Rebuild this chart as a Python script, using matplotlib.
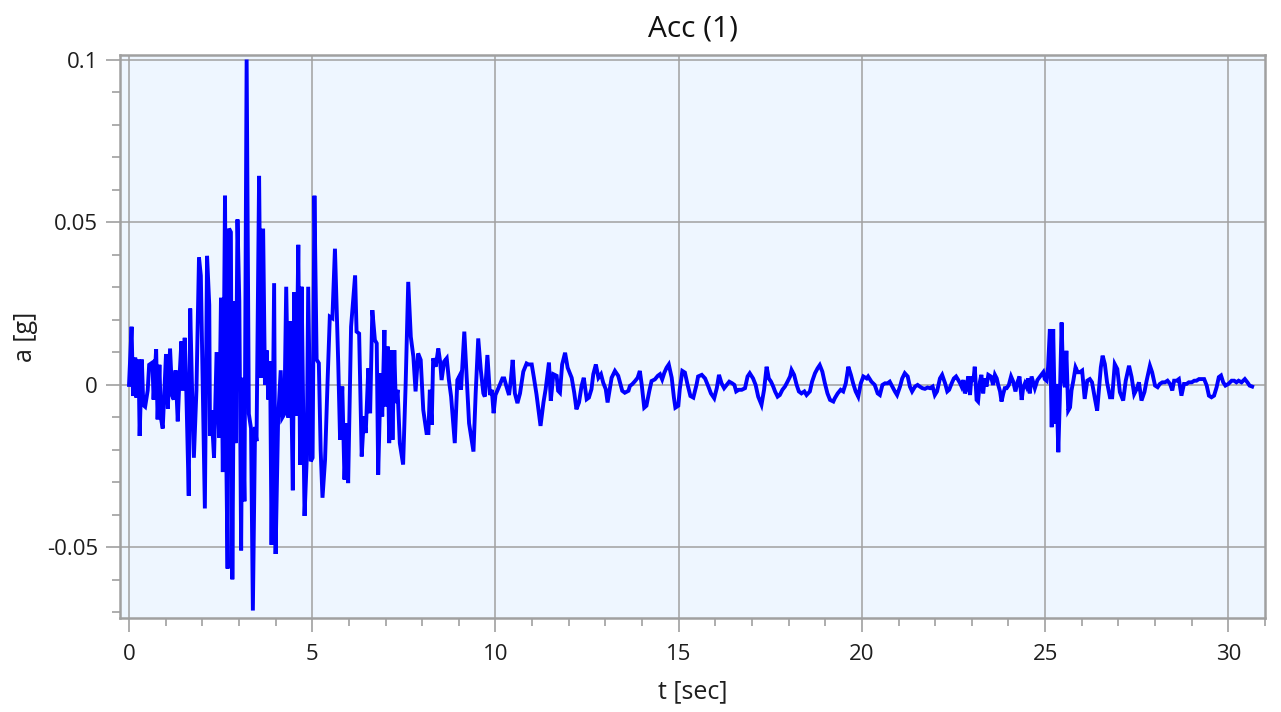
import matplotlib
matplotlib.use("Agg")
import matplotlib.pyplot as plt
from matplotlib.ticker import MultipleLocator, FuncFormatter

# registro de aceleracao: tempo [s] e aceleracao [g]
t_forte = [
    0.00, 0.07, 0.11, 0.17, 0.20, 0.26, 0.29, 0.35, 0.39, 0.44, 0.51, 0.55, 0.64, 0.67, 0.74, 0.78,
    0.83, 0.87, 0.92, 1.01, 1.06, 1.12, 1.18, 1.22, 1.27, 1.33, 1.38, 1.43, 1.47, 1.52, 1.56, 1.63,
    1.67, 1.72, 1.77, 1.84, 1.91, 1.96, 2.07, 2.13, 2.19, 2.21, 2.25, 2.32, 2.39, 2.46, 2.51, 2.56,
    2.62, 2.66, 2.69, 2.73, 2.78, 2.82, 2.87, 2.91, 2.96, 3.01, 3.06, 3.09, 3.15, 3.21, 3.27, 3.33,
    3.38, 3.44, 3.48, 3.55, 3.60, 3.66, 3.71, 3.76, 3.80, 3.85, 3.89, 3.96, 4.00, 4.07, 4.14, 4.18,
    4.24, 4.29, 4.35, 4.40, 4.47, 4.51, 4.56, 4.62, 4.67, 4.71, 4.79, 4.85, 4.89, 4.96, 5.01, 5.06,
    5.12, 5.18, 5.23, 5.28, 5.35, 5.42, 5.48, 5.55, 5.62, 5.71, 5.76, 5.82, 5.88, 5.94, 5.98, 6.06,
    6.17, 6.21, 6.28, 6.35, 6.41, 6.46, 6.53, 6.58, 6.64, 6.71, 6.76, 6.80, 6.87, 6.91, 6.97, 7.00,
    7.06, 7.10, 7.15, 7.19, 7.24, 7.28, 7.33, 7.39, 7.48, 7.55, 7.62, 7.69, 7.76, 7.82, 7.89, 7.96,
    8.03, 8.12, 8.17, 8.21, 8.26, 8.30, 8.37, 8.44, 8.49, 8.53, 8.60, 8.67, 8.73, 8.79, 8.89, 8.96,
    9.01, 9.06, 9.15, 9.21, 9.28, 9.40, 9.46, 9.53, 9.60, 9.67, 9.71, 9.78, 9.85, 9.90, 9.95, 10.00,
]
a_forte = [
    0.0, 0.0179, -0.0034, 0.0084, -0.0039, 0.0078, -0.0157, 0.0078, -0.0062, -0.0067, -0.0017, 0.0062, 0.0069, -0.0045, 0.0110, -0.0106,
    0.0062, -0.0101, -0.0134, 0.0095, -0.0073, 0.0112, -0.0034, -0.0045, 0.0045, -0.0112, 0.0028, 0.0134, -0.0017, 0.0145, 0.0, -0.0341,
    0.0235, -0.0011, -0.0224, -0.0017, 0.0392, 0.0336, -0.0380, 0.0397, 0.0246, -0.0157, -0.0078, -0.0224, 0.0101, -0.0162, 0.0268, -0.0268,
    0.0582, -0.0268, -0.0565, 0.0481, 0.0470, -0.0598, 0.0257, -0.0179, 0.0509, 0.0257, -0.0509, 0.0022, -0.0358, 0.1001, -0.0089, -0.0134,
    -0.0694, -0.0129, -0.0173, 0.0643, 0.0022, 0.0481, 0.0, 0.0106, -0.0045, 0.0073, -0.0492, 0.0313, -0.0520, -0.0101, 0.0045, -0.0101,
    -0.0089, 0.0302, -0.0101, 0.0196, -0.0324, 0.0285, -0.0095, 0.0431, -0.0246, 0.0302, -0.0403, -0.0229, 0.0302, -0.0235, -0.0224, 0.0582,
    0.0078, 0.0067, -0.0201, -0.0347, -0.0230, 0.0015, 0.0210, 0.0205, 0.0419, 0.0066, -0.0169, -0.0005, -0.0291, -0.0118, -0.0302, 0.0179,
    0.0337, 0.0164, 0.0158, -0.0220, -0.0097, -0.0148, 0.0051, -0.0087, 0.0230, 0.0138, 0.0128, -0.0276, 0.0036, -0.0097, 0.0169, -0.0066,
    0.0118, -0.0179, 0.0107, -0.0169, 0.0107, -0.0056, -0.0015, -0.0179, -0.0245, 0.0005, 0.0317, 0.0148, 0.0087, -0.0020, 0.0097, 0.0077,
    -0.0077, -0.0148, -0.0148, -0.0015, -0.0123, 0.0082, 0.0056, 0.0112, 0.0072, 0.0015, 0.0072, 0.0082, 0.0015, -0.0036, -0.0179, 0.0015,
    0.0026, -0.0015, 0.0164, 0.0031, -0.0118, -0.0205, -0.0026, 0.0143, 0.0046, -0.0026, -0.0036, 0.0092, -0.0031, -0.0015, -0.0087, -0.0031,
]

t_cauda = [
    10.08, 10.19, 10.24, 10.30, 10.37, 10.42, 10.47, 10.53, 10.60, 10.67, 10.76, 10.85, 10.90, 10.99, 11.05, 11.12,
    11.23, 11.31, 11.37, 11.46, 11.51, 11.58, 11.67, 11.71, 11.76, 11.82, 11.90, 11.97, 12.08, 12.15, 12.21, 12.28,
    12.35, 12.41, 12.49, 12.55, 12.62, 12.67, 12.74, 12.81, 12.88, 12.94, 13.01, 13.06, 13.12, 13.17, 13.26, 13.35,
    13.40, 13.46, 13.53, 13.63, 13.67, 13.73, 13.81, 13.88, 13.94, 13.99, 14.06, 14.12, 14.20, 14.26, 14.35, 14.43,
    14.49, 14.55, 14.61, 14.67, 14.73, 14.81, 14.87, 14.91, 14.99, 15.03, 15.10, 15.17, 15.24, 15.32, 15.40, 15.49,
    15.53, 15.63, 15.72, 15.81, 15.88, 15.97, 16.04, 16.10, 16.17, 16.24, 16.31, 16.38, 16.46, 16.52, 16.57, 16.64,
    16.72, 16.81, 16.88, 16.94, 17.03, 17.10, 17.17, 17.26, 17.33, 17.40, 17.46, 17.52, 17.58, 17.63, 17.70, 17.76,
    17.83, 17.90, 17.97, 18.04, 18.08, 18.15, 18.22, 18.28, 18.35, 18.43, 18.49, 18.58, 18.64, 18.72, 18.79, 18.85,
    18.92, 18.99, 19.06, 19.13, 19.22, 19.26, 19.34, 19.42, 19.49, 19.56, 19.63, 19.70, 19.76, 19.83, 19.90, 19.97,
    20.04, 20.13, 20.17, 20.26, 20.35, 20.43, 20.49, 20.56, 20.63, 20.70, 20.76, 20.83, 20.90, 20.96, 21.04, 21.10,
    21.17, 21.25, 21.31, 21.37, 21.45, 21.52, 21.58, 21.65, 21.72, 21.79, 21.86, 21.93, 21.99, 22.05, 22.13, 22.19,
    22.27, 22.33, 22.38, 22.45, 22.51, 22.57, 22.63, 22.68, 22.72, 22.77, 22.81, 22.86, 22.90, 22.95, 22.99, 23.04,
    23.08, 23.13, 23.17, 23.22, 23.26, 23.31, 23.35, 23.40, 23.45, 23.52, 23.58, 23.63, 23.68, 23.72, 23.77, 23.81,
    23.86, 23.90, 23.95, 24.01, 24.07, 24.13, 24.19, 24.25, 24.30, 24.36, 24.40, 24.45, 24.49, 24.54, 24.58, 24.63,
    24.67, 24.72, 24.79,
]
a_cauda = [
    -0.0010, 0.0020, 0.0020, -0.0005, -0.0031, 0.0015, 0.0077, -0.0026, -0.0056, -0.0026, 0.0041, 0.0066, 0.0063, 0.0063, 0.0022, -0.0029,
    -0.0126, -0.0054, -0.0013, 0.0069, -0.0049, 0.0033, 0.0028, -0.0018, -0.0024, 0.0063, 0.0099, 0.0053, 0.0022, -0.0024, -0.0075, -0.0054,
    -0.0003, 0.0022, -0.0044, -0.0039, -0.0013, 0.0033, 0.0063, 0.0022, 0.0033, 0.0007, -0.0013, -0.0054, -0.0013, 0.0022, 0.0043, 0.0028,
    0.0007, -0.0018, -0.0024, -0.0018, -0.0003, 0.0002, 0.0012, 0.0022, 0.0043, 0.0002, -0.0070, -0.0064, -0.0018, 0.0012, 0.0017, 0.0028,
    0.0033, 0.0017, 0.0038, 0.0053, 0.0063, 0.0022, -0.0039, -0.0070, -0.0064, -0.0013, 0.0043, 0.0038, 0.0002, -0.0034, -0.0039, 0.0002,
    0.0026, 0.0031, 0.0020, -0.0005, -0.0026, -0.0041, -0.0010, 0.0031, 0.0005, -0.0010, 0.0, 0.0010, 0.0005, 0.0, -0.0020, -0.0015,
    -0.0015, -0.0010, 0.0026, 0.0036, 0.0020, 0.0, -0.0036, -0.0061, -0.0015, 0.0056, 0.0020, 0.0010, -0.0005, -0.0020, -0.0036, -0.0031,
    -0.0015, -0.0005, 0.0010, 0.0026, 0.0046, 0.0031, 0.0, -0.0020, -0.0026, -0.0020, -0.0031, -0.0020, 0.0010, 0.0036, 0.0051, 0.0061,
    0.0041, 0.0005, -0.0026, -0.0046, -0.0051, -0.0041, -0.0026, -0.0015, -0.0020, 0.0005, 0.0056, 0.0031, 0.0005, -0.0020, -0.0036, 0.0005,
    0.0026, 0.0020, 0.0026, 0.0010, 0.0, -0.0026, -0.0031, 0.0, 0.0005, 0.0005, 0.0010, -0.0005, -0.0020, -0.0031, -0.0005, 0.0020,
    0.0036, 0.0026, -0.0005, -0.0020, -0.0005, 0.0, -0.0005, -0.0010, -0.0012, -0.0008, -0.0010, -0.0005, -0.0031, -0.0020, 0.0020, 0.0031,
    0.0005, -0.0020, -0.0015, 0.0005, 0.0020, 0.0026, 0.0015, 0.0005, -0.0005, 0.0015, -0.0026, -0.0010, 0.0026, -0.0031, 0.0026, 0.0010,
    0.0056, -0.0046, -0.0051, 0.0010, 0.0031, -0.0026, 0.0020, -0.0005, 0.0031, 0.0026, 0.0, 0.0031, 0.0020, 0.0, -0.0020, -0.0051,
    -0.0026, -0.0010, -0.0010, 0.0, 0.0026, 0.0010, -0.0020, 0.0010, 0.0026, -0.0046, -0.0010, 0.0005, -0.0005, 0.0020, -0.0026, 0.0026,
    0.0010, -0.0010, 0.0015,
]

t_replica = [
    24.95, 24.99, 25.04, 25.08, 25.13, 25.18, 25.22, 25.27, 25.31, 25.36, 25.40, 25.45, 25.49, 25.54, 25.58, 25.63,
    25.68, 25.72, 25.77, 25.83, 25.89, 25.95, 26.01, 26.08, 26.15, 26.22, 26.28, 26.36, 26.42, 26.48, 26.52, 26.57,
    26.63, 26.69, 26.77, 26.83, 26.90, 26.97, 27.04, 27.13, 27.20, 27.29, 27.36, 27.43, 27.50, 27.56, 27.63, 27.71,
    27.77, 27.86, 27.92, 28.00, 28.07, 28.13, 28.20, 28.27, 28.34, 28.41, 28.47, 28.52, 28.59, 28.65, 28.72, 28.79,
    28.86, 28.92, 29.00, 29.07, 29.13, 29.20, 29.27, 29.34, 29.41, 29.47, 29.54, 29.61, 29.68, 29.74, 29.80, 29.86,
    29.92, 30.00, 30.09, 30.16, 30.22, 30.28, 30.36, 30.45, 30.52, 30.58, 30.65,
]
a_replica = [
    0.0039, 0.0018, 0.0013, 0.0054, 0.0172, -0.0130, 0.0172, -0.0120, 0.0003, -0.0207, -0.0048, 0.0192, 0.0024, -0.0007, 0.0105, -0.0079,
    -0.0069, -0.0017, 0.0013, 0.0054, 0.0039, 0.0039, 0.0044, -0.0043, 0.0013, 0.0018, 0.0008, -0.0043, -0.0079, 0.0003, 0.0054, 0.0090,
    0.0064, 0.0008, -0.0038, -0.0038, 0.0064, 0.0049, -0.0022, -0.0048, 0.0013, 0.0059, 0.0024, -0.0028, -0.0012, 0.0008, -0.0048, -0.0022,
    0.0013, 0.0059, 0.0039, -0.0002, -0.0007, 0.0003, 0.0008, 0.0008, 0.0013, 0.0003, -0.0017, 0.0013, 0.0013, 0.0018, -0.0033, 0.0003,
    0.0003, 0.0008, 0.0008, 0.0013, 0.0013, 0.0018, 0.0018, 0.0018, -0.0002, -0.0033, -0.0038, -0.0033, -0.0007, 0.0024, 0.0029, 0.0008,
    -0.0002, 0.0003, 0.0013, 0.0013, 0.0008, 0.0013, 0.0008, 0.0018, 0.0008, -0.0002, -0.0005,
]

tempo = t_forte + t_cauda + t_replica
aceleracao = a_forte + a_cauda + a_replica

cor_grade = "#A0A0A0"
cor_texto = "#1E1E1E"

plt.rcParams["font.family"] = ["Open Sans", "DejaVu Sans"]

fig = plt.figure(figsize=(12.81, 7.12), dpi=100)
ax = fig.add_axes([0.0937, 0.132, 0.8938, 0.7908])
ax.set_facecolor("#EEF6FF")

ax.plot(tempo, aceleracao, color="#0000FF", linewidth=2.8, solid_joinstyle="miter")

ax.set_xlim(-0.245, 31.0)
ax.set_ylim(-0.0717, 0.1015)

ax.xaxis.set_major_locator(MultipleLocator(5))
ax.xaxis.set_minor_locator(MultipleLocator(1))
ax.yaxis.set_major_locator(MultipleLocator(0.05))
ax.yaxis.set_minor_locator(MultipleLocator(0.01))
ax.yaxis.set_major_formatter(FuncFormatter(lambda v, p: f"{v:g}" if abs(v) > 1e-9 else "0"))

ax.grid(True, which="major", color=cor_grade, linewidth=1.1)
ax.set_axisbelow(True)
for lado in ax.spines.values():
    lado.set_color(cor_grade)
    lado.set_linewidth(1.8)

ax.tick_params(axis="y", which="major", direction="out", length=10, width=1.2, color=cor_grade,
               labelsize=16, labelcolor=cor_texto, pad=6)
ax.tick_params(axis="x", which="major", direction="out", length=10, width=1.2, color=cor_grade,
               labelsize=16, labelcolor=cor_texto, pad=9)
ax.tick_params(which="minor", direction="out", length=5.5, width=1.2, color=cor_grade)

ax.set_title("Acc (1)", fontsize=21.5, color="#111111", pad=13)
ax.set_xlabel("t [sec]", fontsize=18, color=cor_texto, labelpad=10)
ax.set_ylabel("a [g]", fontsize=18, color=cor_texto, labelpad=6)

fig.savefig("out.png", dpi=100)
plt.close(fig)
